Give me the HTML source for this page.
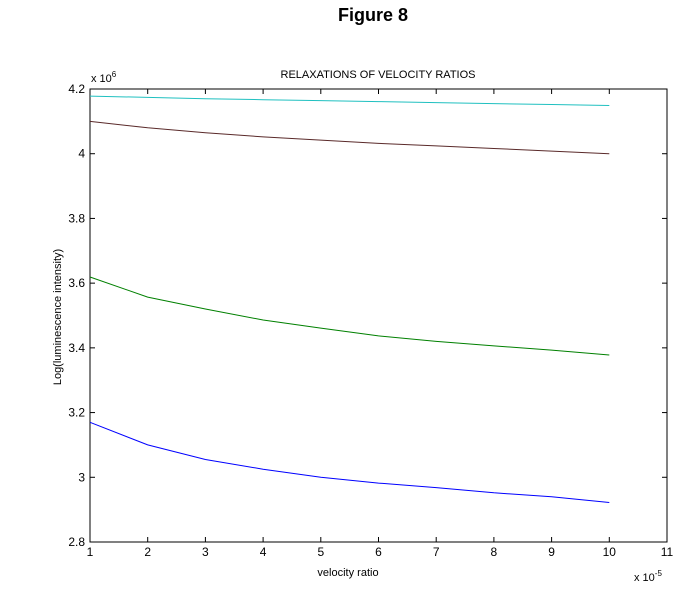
<!DOCTYPE html>
<html><head><meta charset="utf-8"><style>
body{margin:0;background:#fff;}
svg text{font-family:"Liberation Sans",Arial,sans-serif;fill:#000;}
</style></head><body>
<svg width="686" height="593" viewBox="0 0 686 593" xmlns="http://www.w3.org/2000/svg">
<text x="373" y="21" font-size="18" font-weight="bold" text-anchor="middle">Figure 8</text>
<text x="378" y="78" font-size="11" text-anchor="middle">RELAXATIONS OF VELOCITY RATIOS</text>
<g id="plot"></g>
<text x="348" y="576" font-size="11" text-anchor="middle">velocity ratio</text>
<text x="0" y="0" font-size="11" text-anchor="middle" transform="translate(61,317) rotate(-90)">Log(luminescence intensity)</text>
<text x="91" y="82" font-size="11">x 10<tspan font-size="8" dy="-5">6</tspan></text>
<text x="634" y="581" font-size="11">x 10<tspan font-size="8" dy="-5">-5</tspan></text>
</svg>
<script>
const xValues=[1,2,3,4,5,6,7,8,9,10];
const cyanSeries=[4.178,4.174,4.170,4.167,4.164,4.161,4.158,4.155,4.152,4.149];
const darkSeries=[4.100,4.080,4.065,4.052,4.042,4.032,4.024,4.016,4.008,4.000];
const greenSeries=[3.619,3.557,3.520,3.486,3.461,3.437,3.420,3.406,3.393,3.378];
const blueSeries=[3.170,3.100,3.055,3.025,3.000,2.982,2.968,2.952,2.940,2.922];
const xTicks=[1,2,3,4,5,6,7,8,9,10,11];
const yTicks=[2.8,3,3.2,3.4,3.6,3.8,4,4.2];
const yTickLabels=["2.8","3","3.2","3.4","3.6","3.8","4","4.2"];

const L=90,R=667,T=89,B=542;
const sx=v=>L+(v-1)/(11-1)*(R-L);
const sy=v=>B-(v-2.8)/(4.2-2.8)*(B-T);
const NS="http://www.w3.org/2000/svg";
const g=document.getElementById('plot');
function mk(t,a){const e=document.createElementNS(NS,t);for(const k in a)e.setAttribute(k,a[k]);g.appendChild(e);return e;}

const frame=mk('rect',{x:L,y:T,width:R-L,height:B-T,fill:'none',stroke:'#000','stroke-width':1});



xTicks.forEach(v=>{
  const x=sx(v);
  const t1=mk('line',{x1:x,y1:B,x2:x,y2:B-5,stroke:'#000'});
  
  
  const t2=mk('line',{x1:x,y1:T,x2:x,y2:T+5,stroke:'#000'});
  
  
  const lb=mk('text',{x:x,y:B+14,'font-size':12,'text-anchor':'middle'});
  lb.textContent=String(v);
  
  
});
yTicks.forEach((v,i)=>{
  const y=sy(v);
  const t1=mk('line',{x1:L,y1:y,x2:L+5,y2:y,stroke:'#000'});
  
  
  const t2=mk('line',{x1:R,y1:y,x2:R-5,y2:y,stroke:'#000'});
  
  
  const lb=mk('text',{x:L-5,y:y+4,'font-size':12,'text-anchor':'end'});
  lb.textContent=yTickLabels[i];
  
  
});
function line(vals,color,name){
  const d=vals.map((v,i)=>(i?'L':'M')+sx(xValues[i]).toFixed(1)+','+sy(v).toFixed(1)).join(' ');
  const p=mk('path',{d:d,fill:'none',stroke:color,'stroke-width':1});
  
  
}
line(cyanSeries,'#20c0c0','cyan-series-line');
line(darkSeries,'#5a2a2a','dark-series-line');
line(greenSeries,'#008000','green-series-line');
line(blueSeries,'#0000ff','blue-series-line');
</script>
</body></html>
